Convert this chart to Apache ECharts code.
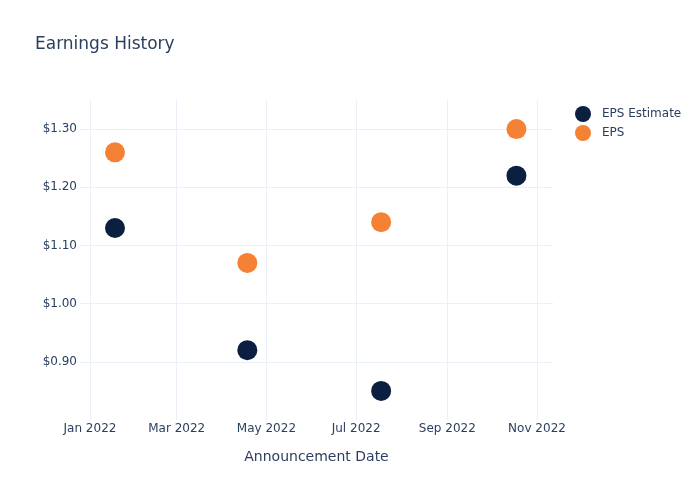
<!DOCTYPE html>
<html>
<head>
<meta charset="utf-8">
<script src="https://cdn.jsdelivr.net/npm/echarts@6/dist/echarts.min.js"></script>
<style>html,body{margin:0;padding:0;background:#fff}#c{width:700px;height:500px}</style>
</head>
<body>
<div id="c"></div>
<script>
var dates = ['2022-01-18', '2022-04-18', '2022-07-18', '2022-10-18'];
var epsEstimate = [1.13, 0.92, 0.85, 1.22];
var eps = [1.26, 1.07, 1.14, 1.30];
var tickDates = ['2022-01-01', '2022-03-01', '2022-05-01', '2022-07-01', '2022-09-01', '2022-11-01'];
var monthNames = ['Jan','Feb','Mar','Apr','May','Jun','Jul','Aug','Sep','Oct','Nov','Dec'];

function ts(s) { return new Date(s + 'T00:00:00Z').getTime(); }
var tickTs = tickDates.map(ts);
var txt = '#2a3f5f';

var chart = echarts.init(document.getElementById('c'), null, {renderer: 'canvas'});
chart.setOption({
  animation: false,
  backgroundColor: '#fff',
  textStyle: {fontFamily: 'DejaVu Sans'},
  title: {
    text: 'Earnings History', left: 30, top: 31,
    textStyle: {fontSize: 17, fontWeight: 'normal', color: txt, fontFamily: 'DejaVu Sans'}
  },
  legend: {
    orient: 'vertical', left: 570, top: 101, itemGap: 3,
    itemWidth: 16, itemHeight: 16, icon: 'circle',
    textStyle: {fontSize: 12, color: txt, fontFamily: 'DejaVu Sans', padding: [0, 0, 0, 6]},
    data: ['EPS Estimate', 'EPS']
  },
  grid: {left: 80, right: 147, top: 100, bottom: 80, containLabel: false},
  xAxis: {
    type: 'value',
    min: ts('2021-12-25') + 5 * 3600000,
    max: ts('2022-11-11') + 21 * 3600000,
    name: 'Announcement Date', nameLocation: 'middle', nameGap: 30,
    nameTextStyle: {fontSize: 14, color: txt, fontFamily: 'DejaVu Sans'},
    axisLine: {show: false},
    axisTick: {show: false, customValues: tickTs},
    axisLabel: {
      customValues: tickTs, color: txt, fontSize: 12, margin: 3,
      fontFamily: 'DejaVu Sans',
      formatter: function (v) { var d = new Date(v); return monthNames[d.getUTCMonth()] + ' ' + d.getUTCFullYear(); }
    },
    splitLine: {show: true, lineStyle: {color: '#ebf0f8', width: 1}}
  },
  yAxis: {
    type: 'value', min: 0.8, max: 1.35, interval: 0.1,
    axisLine: {show: false}, axisTick: {show: false},
    axisLabel: {
      color: txt, fontSize: 12, margin: 3, fontFamily: 'DejaVu Sans',
      showMinLabel: false, showMaxLabel: false,
      formatter: function (v) { return '$' + v.toFixed(2); }
    },
    splitLine: {show: true, showMinLine: false, showMaxLine: false, lineStyle: {color: '#ebf0f8', width: 1}}
  },
  series: [
    {
      name: 'EPS Estimate', type: 'scatter', symbolSize: 20,
      itemStyle: {color: '#0b1f41', opacity: 1},
      data: dates.map(function (d, i) { return [ts(d), epsEstimate[i]]; })
    },
    {
      name: 'EPS', type: 'scatter', symbolSize: 20,
      itemStyle: {color: '#f58134', opacity: 1},
      data: dates.map(function (d, i) { return [ts(d), eps[i]]; })
    }
  ]
});
</script>
</body>
</html>
